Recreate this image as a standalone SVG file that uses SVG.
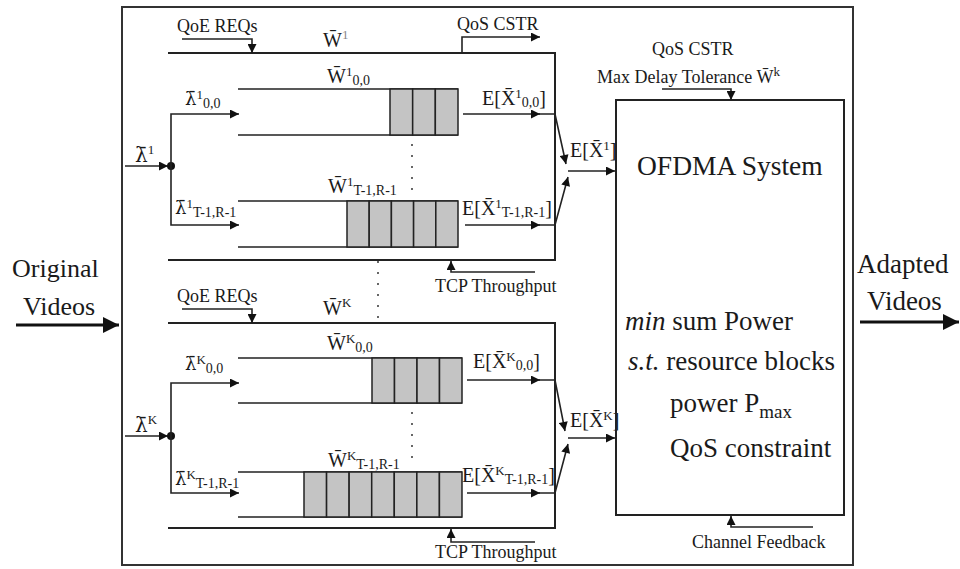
<svg xmlns="http://www.w3.org/2000/svg" width="960" height="569" viewBox="0 0 960 569">
<defs>
<marker id="ah" viewBox="0 0 10 10" refX="10" refY="5" markerWidth="10" markerHeight="9" markerUnits="userSpaceOnUse" orient="auto"><path d="M0,0 L10,5 L0,10 z" fill="#111"/></marker>
<marker id="ahB" viewBox="0 0 10 10" refX="10" refY="5" markerWidth="17" markerHeight="16" markerUnits="userSpaceOnUse" orient="auto"><path d="M0,0 L10,5 L0,10 z" fill="#111"/></marker>
</defs>
<style>
text{font-family:"Liberation Serif","Times New Roman",serif;fill:#1a1a1a}
.s{font-size:18px}
.m{font-size:20px}
.sp{font-size:13px}
.sb{font-size:14px}
.big{font-size:27px}
.lam{font-family:"DejaVu Serif",serif;font-size:18px}
.ln{fill:none;stroke:#222;stroke-width:2}
.ar{fill:none;stroke:#222;stroke-width:1.6;marker-end:url(#ah)}
.arB{fill:none;stroke:#111;stroke-width:3;marker-end:url(#ahB)}
.q{fill:none;stroke:#222;stroke-width:1.6}
.cell{fill:#c4c4c4;stroke:#222;stroke-width:1.5}
.dot{fill:none;stroke:#333;stroke-width:2;stroke-linecap:round;stroke-dasharray:0 11}
</style>

<g id="outer-box"><rect x="122" y="7" width="731" height="558" fill="none" stroke="#333" stroke-width="2"/></g>

<g id="user1">
<path class="ln" d="M168,53 H555 V260 H168"/>
<text class="m" x="323" y="47">W&#772;<tspan class="sp" dy="-8" fill="#888">1</tspan></text>
<g id="queue1-00">
<path class="q" d="M238,89 H458 M238,135 H458"/>
<rect class="cell" x="390" y="89" width="22.67" height="46"/>
<rect class="cell" x="412.67" y="89" width="22.67" height="46"/>
<rect class="cell" x="435.33" y="89" width="22.67" height="46"/>
<text class="m" x="327" y="83">W&#772;<tspan class="sp" dy="-7">1</tspan><tspan class="sb" dy="9">0,0</tspan></text>
</g>
<g id="queue1-T">
<path class="q" d="M238,201 H458 M238,247 H458"/>
<rect class="cell" x="347" y="201" width="22.2" height="46"/>
<rect class="cell" x="369.2" y="201" width="22.2" height="46"/>
<rect class="cell" x="391.4" y="201" width="22.2" height="46"/>
<rect class="cell" x="413.6" y="201" width="22.2" height="46"/>
<rect class="cell" x="435.8" y="201" width="22.2" height="46"/>
<text class="m" x="328" y="193">W&#772;<tspan class="sp" dy="-7">1</tspan><tspan class="sb" dy="9">T-1,R-1</tspan></text>
</g>
<path class="dot" d="M412,145 V196"/>
<text class="m" x="185" y="105"><tspan class="lam">&#955;&#772;</tspan><tspan class="sp" dy="-6">1</tspan><tspan class="sb" dy="9">0,0</tspan></text>
<text class="m" x="175" y="214"><tspan class="lam">&#955;&#772;</tspan><tspan class="sp" dy="-6">1</tspan><tspan class="sb" dy="9">T-1,R-1</tspan></text>
<text class="m" x="135" y="162"><tspan class="lam" style="font-size:20px">&#955;&#772;</tspan><tspan class="sp" dy="-8">1</tspan></text>
<text class="m" x="482" y="105">E[X&#772;<tspan class="sp" dy="-7">1</tspan><tspan class="sb" dy="9">0,0</tspan><tspan dy="-2">]</tspan></text>
<text class="m" x="462" y="215">E[X&#772;<tspan class="sp" dy="-7">1</tspan><tspan class="sb" dy="9">T-1,R-1</tspan><tspan dy="-2">]</tspan></text>
<text class="m" x="570" y="157">E[X&#772;<tspan class="sp" dy="-7">1</tspan><tspan dy="7">]</tspan></text>
<text class="s" x="177" y="32">QoE REQs</text>
<text class="s" x="457" y="30">QoS CSTR</text>
<text class="s" x="435" y="292">TCP Throughput</text>
</g>

<path class="dot" d="M378,262 V321"/>

<g id="userK">
<path class="ln" d="M168,323 H555 V528 H168"/>
<text class="m" x="323" y="315">W&#772;<tspan class="sp" dy="-8">K</tspan></text>
<g id="queueK-00">
<path class="q" d="M238,358 H462 M238,403 H462"/>
<rect class="cell" x="372" y="358" width="22.5" height="45"/>
<rect class="cell" x="394.5" y="358" width="22.5" height="45"/>
<rect class="cell" x="417" y="358" width="22.5" height="45"/>
<rect class="cell" x="439.5" y="358" width="22.5" height="45"/>
<text class="m" x="327" y="350">W&#772;<tspan class="sp" dy="-7">K</tspan><tspan class="sb" dy="9">0,0</tspan></text>
</g>
<g id="queueK-T">
<path class="q" d="M238,472 H462 M238,517 H462"/>
<rect class="cell" x="304" y="472" width="22.57" height="45"/>
<rect class="cell" x="326.57" y="472" width="22.57" height="45"/>
<rect class="cell" x="349.14" y="472" width="22.57" height="45"/>
<rect class="cell" x="371.71" y="472" width="22.57" height="45"/>
<rect class="cell" x="394.28" y="472" width="22.57" height="45"/>
<rect class="cell" x="416.85" y="472" width="22.57" height="45"/>
<rect class="cell" x="439.42" y="472" width="22.57" height="45"/>
<text class="m" x="328" y="467">W&#772;<tspan class="sp" dy="-7">K</tspan><tspan class="sb" dy="9">T-1,R-1</tspan></text>
</g>
<path class="dot" d="M412,413 V466"/>
<text class="m" x="185" y="370"><tspan class="lam">&#955;&#772;</tspan><tspan class="sp" dy="-6">K</tspan><tspan class="sb" dy="9">0,0</tspan></text>
<text class="m" x="175" y="485"><tspan class="lam">&#955;&#772;</tspan><tspan class="sp" dy="-6">K</tspan><tspan class="sb" dy="9">T-1,R-1</tspan></text>
<text class="m" x="135" y="432"><tspan class="lam" style="font-size:20px">&#955;&#772;</tspan><tspan class="sp" dy="-8">K</tspan></text>
<text class="m" x="473" y="368">E[X&#772;<tspan class="sp" dy="-7">K</tspan><tspan class="sb" dy="9">0,0</tspan><tspan dy="-2">]</tspan></text>
<text class="m" x="462" y="482">E[X&#772;<tspan class="sp" dy="-7">K</tspan><tspan class="sb" dy="9">T-1,R-1</tspan><tspan dy="-2">]</tspan></text>
<text class="m" x="570" y="427">E[X&#772;<tspan class="sp" dy="-7">K</tspan><tspan dy="7">]</tspan></text>
<text class="s" x="177" y="302">QoE REQs</text>
<text class="s" x="435" y="558">TCP Throughput</text>
</g>

<g id="ofdma">
<rect x="616" y="100" width="228" height="415" fill="none" stroke="#222" stroke-width="2"/>
<text class="big" x="637" y="175" style="font-size:27.5px">OFDMA System</text>
<text class="big" x="625" y="330"><tspan font-style="italic">min</tspan> sum Power</text>
<text class="big" x="628" y="370"><tspan font-style="italic">s.t.</tspan> resource blocks</text>
<text class="big" x="670" y="412">power P<tspan style="font-size:19px" dy="6">max</tspan></text>
<text class="big" x="670" y="457">QoS constraint</text>
<text class="s" x="652" y="55">QoS CSTR</text>
<text class="s" x="597" y="83">Max Delay Tolerance W&#772;<tspan class="sp" dy="-7">k</tspan></text>
<text class="s" x="692" y="548">Channel Feedback</text>
</g>

<g id="io-labels">
<text style="font-size:26px" x="12" y="277">Original</text>
<text style="font-size:26px" x="23" y="315">Videos</text>
<text class="big" x="857" y="273">Adapted</text>
<text class="big" x="867" y="310">Videos</text>
</g>

<g id="connectors">
<path class="arB" d="M16,325 H119"/>
<path class="arB" d="M860,322 H959"/>
<path class="ar" d="M182,39 H252 V53" stroke="#555" stroke-width="2.2"/>
<path class="ar" d="M462,53 V37 H540"/>
<path class="ar" d="M535,272 H451 V261"/>
<path class="ar" d="M182,309 H252 V323" stroke="#555" stroke-width="2.2"/>
<path class="ar" d="M535,542 H451 V529"/>
<path class="ar" d="M662,89 H731 V100"/>
<path class="ar" d="M813,527 H731 V516"/>
<path class="ar" d="M125,166 H168"/>
<circle cx="171" cy="166" r="4" fill="#111"/>
<path class="ar" d="M171,166 V114 H239"/>
<path class="ar" d="M171,166 V225 H239"/>
<path class="ar" d="M463,114 H540"/>
<path class="ar" d="M538,114 H555 L566,164"/>
<path class="ar" d="M465,225 H540"/>
<path class="ar" d="M538,225 H555 L568,177"/>
<path class="ar" d="M568,171 H615"/>
<path class="ar" d="M125,436 H168"/>
<circle cx="171" cy="436" r="4" fill="#111"/>
<path class="ar" d="M171,436 V383 H239"/>
<path class="ar" d="M171,436 V493 H239"/>
<path class="ar" d="M467,380 H540"/>
<path class="ar" d="M538,380 H555 L565,431"/>
<path class="ar" d="M467,493 H540"/>
<path class="ar" d="M538,493 H555 L568,444"/>
<path class="ar" d="M568,438 H615"/>
</g>
</svg>
